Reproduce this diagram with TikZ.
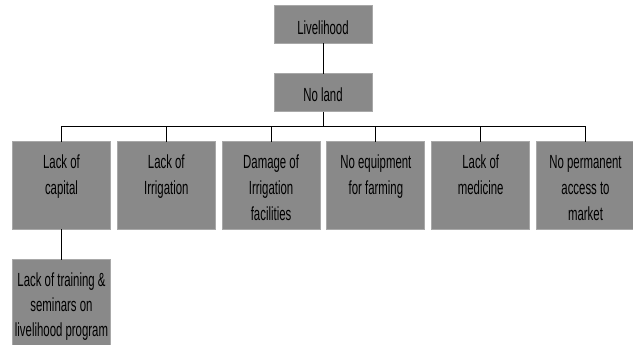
\documentclass[tikz,border=0pt]{standalone}
\usepackage{fontspec}
\setmainfont{Liberation Sans}[FakeStretch=0.6]
\definecolor{boxfill}{HTML}{898989}
\definecolor{boxline}{HTML}{A8A8A8}
\newcommand{\boxtext}[4]{\parbox[c][#1][t]{98pt}{\centering\fontsize{19pt}{#3}\selectfont\rule{0pt}{#2}#4\par}}
\tikzset{
  gbox/.style={draw=boxline, fill=boxfill, line width=1pt, inner sep=0pt, outer sep=0pt, anchor=north, text=black},
  conn/.style={draw=black, line width=0.9pt}
}
\begin{document}
\begin{tikzpicture}[x=1pt,y=-1pt]
\useasboundingbox (0,0) rectangle (633,345);
\node[gbox] (live) at (323,5.5) {\boxtext{38pt}{29pt}{25pt}{Livelihood}};
\node[gbox] (noland) at (323,74) {\boxtext{38pt}{28pt}{25pt}{No land}};
\node[gbox] (b1) at (61.5,142) {\boxtext{87pt}{26pt}{26pt}{Lack of\\capital}};
\node[gbox] (b2) at (166.3,142) {\boxtext{87pt}{26pt}{26pt}{Lack of\\Irrigation}};
\node[gbox] (b3) at (271.1,142) {\boxtext{87pt}{26pt}{26pt}{Damage of\\Irrigation\\facilities}};
\node[gbox] (b4) at (375.9,142) {\boxtext{87pt}{26pt}{26pt}{No equipment\\for farming}};
\node[gbox] (b5) at (480.7,142) {\boxtext{87pt}{26pt}{26pt}{Lack of\\medicine}};
\node[gbox] (b6) at (585.5,142) {\boxtext{87pt}{26pt}{26pt}{No permanent\\access to\\market}};
\node[gbox] (b7) at (61.5,259.5) {\boxtext{95pt}{27pt}{25pt}{Lack of training \&\\seminars on\\livelihood program}};
\coordinate (bus) at (323,126);
\draw[conn] (live.south) -- (noland.north);
\draw[conn] (noland.south) -- (bus);
\foreach \b in {b1,b2,b3,b4,b5,b6} {\draw[conn] (\b.north) |- (bus);}
\draw[conn] (b1.south) -- (b7.north);
\end{tikzpicture}
\end{document}
